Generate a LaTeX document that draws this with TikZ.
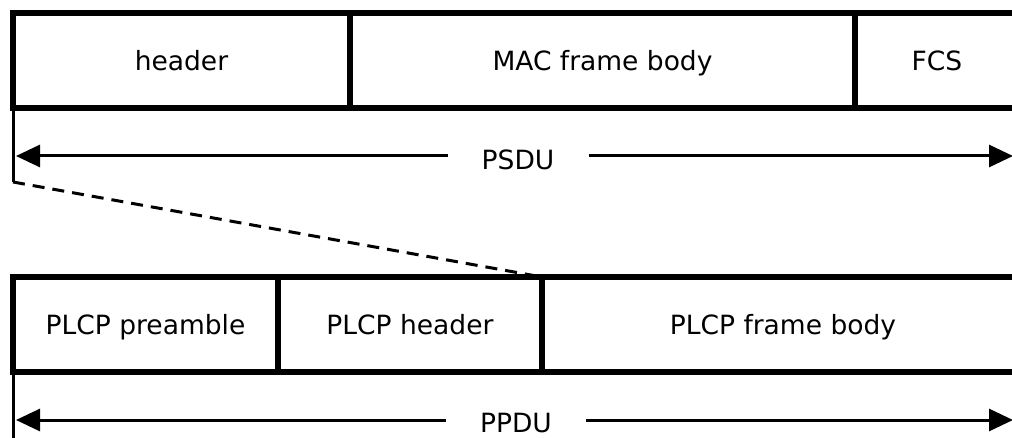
\documentclass[tikz,border=0pt]{standalone}
\usepackage{fontspec}
\setmainfont{DejaVu Sans}
\usetikzlibrary{arrows.meta}
\begin{document}
\begin{tikzpicture}[x=1pt,y=-1pt,
  lbl/.style={font=\fontsize{26.5}{32}\selectfont,text height=19.3pt,text depth=0pt},
  cell/.style={lbl,draw,line width=5.5pt,minimum height=95pt,inner sep=0pt,outer sep=0pt},
  span/.style={lbl,fill=white,inner xsep=34pt,inner ysep=2pt},
  ext/.style={line width=3pt},
  dim/.style={line width=3pt,-{Triangle[length=24pt,width=22pt]}},
  zoomline/.style={line width=3pt,dash pattern=on 12pt off 8pt}]
\useasboundingbox (0,0) rectangle (1012,438);
\clip (0,0) rectangle (1012,438);

% MAC frame (PSDU)
\node[cell,minimum width=337pt] (hdr) at (181.5,60.5) {header};
\node[cell,minimum width=505pt] (mac) at (602.5,60.5) {MAC frame body};
\node[cell,minimum width=164pt] (fcs) at (937,60.5) {FCS};
\coordinate (tail) at (13,182);
\draw[ext] (hdr.south west) -- (tail);
\node[span] (psdu) at (518,159.5) {PSDU};
\coordinate (psduL) at (16,156);
\coordinate (psduR) at (1013,156);
\draw[dim] (psdu.west |- psduL) -- (psduL);
\draw[dim] (psdu.east |- psduR) -- (psduR);

% PLCP frame (PPDU)
\node[cell,minimum width=265pt] (pre) at (145.5,324.5) {PLCP preamble};
\node[cell,minimum width=264pt] (phd) at (410,324.5) {PLCP header};
\node[cell,minimum width=482pt] (pfb) at (783,324.5) {PLCP frame body};
\coordinate (ptail) at (13,445);
\draw[ext] (pre.south west) -- (ptail);
\node[span] (ppdu) at (516,422.5) {PPDU};
\coordinate (ppduL) at (16,420);
\coordinate (ppduR) at (1013,420);
\draw[dim] (ppdu.west |- ppduL) -- (ppduL);
\draw[dim] (ppdu.east |- ppduR) -- (ppduR);

% the PSDU is carried as the PLCP frame body
\draw[zoomline] (tail) -- (pfb.north west);
\end{tikzpicture}
\end{document}
